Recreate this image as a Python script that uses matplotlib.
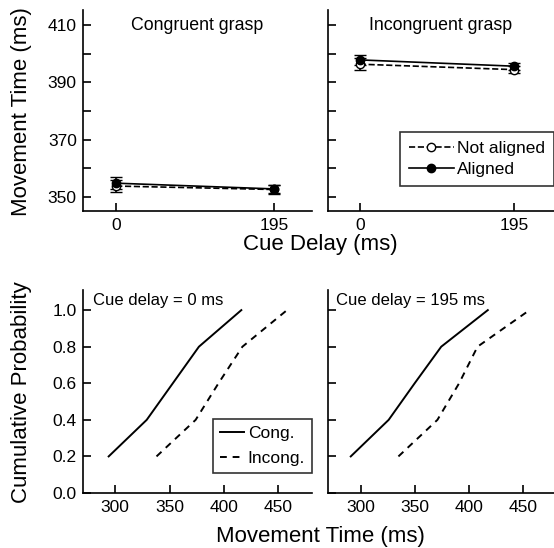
import matplotlib
matplotlib.use("Agg")
import matplotlib.pyplot as plt
from matplotlib.ticker import MultipleLocator

plt.rcParams['font.family'] = ['Liberation Sans', 'DejaVu Sans']

# data: mean movement time (ms) by cue delay
cue_delays = [0, 195]
cong_aligned = [354.8, 352.8]
cong_aligned_err = [2.0, 1.5]
cong_notaligned = [353.8, 352.6]
cong_notaligned_err = [2.0, 1.5]
incong_aligned = [397.8, 395.6]
incong_aligned_err = [1.7, 1.2]
incong_notaligned = [396.3, 394.4]
incong_notaligned_err = [2.0, 1.3]

# cumulative distributions
cum_prob = [0.2, 0.4, 0.6, 0.8, 1.0]
d0_cong = [294, 329, 353, 377, 416]
d0_incong = [338, 374, 395, 417, 458]
d195_cong = [291, 326, 350, 374.5, 417.5]
d195_incong = [335, 371, 391, 408, 456]

W, H = 554, 548
fig = plt.figure(figsize=(W / 100, H / 100), dpi=100)


def px_axes(x0, y0, x1, y1):
    # pixel box (top-left origin) -> figure fraction
    return fig.add_axes([x0 / W, 1 - y1 / H, (x1 - x0) / W, (y1 - y0) / H])


def style(ax):
    ax.spines['top'].set_visible(False)
    ax.spines['right'].set_visible(False)
    ax.spines['left'].set_linewidth(1.2)
    ax.spines['bottom'].set_linewidth(1.2)
    ax.tick_params(direction='in', length=6, width=1.2, labelsize=12.5)
    ax.tick_params(axis='y', pad=4.5)
    ax.tick_params(axis='x', pad=5)


ax1 = px_axes(83, 10, 312, 211)
ax2 = px_axes(328, 10, 554, 211)
ax3 = px_axes(83, 290, 312, 493)
ax4 = px_axes(328, 290, 554, 493)

# top panels
for ax, al, al_e, na, na_e, title in [
        (ax1, cong_aligned, cong_aligned_err, cong_notaligned, cong_notaligned_err, "Congruent grasp"),
        (ax2, incong_aligned, incong_aligned_err, incong_notaligned, incong_notaligned_err, "Incongruent grasp")]:
    style(ax)
    ax.errorbar(cue_delays, na, yerr=na_e, color='k', ls='--', lw=1.2, marker='o',
                mfc='white', mec='k', ms=6, capsize=4, elinewidth=1.2, label='Not aligned')
    ax.errorbar(cue_delays, al, yerr=al_e, color='k', ls='-', lw=1.2, marker='o',
                mfc='k', mec='k', ms=6, capsize=4, elinewidth=1.2, label='Aligned')
    ax.set_ylim(345.1, 415.2)
    ax.yaxis.set_major_locator(MultipleLocator(10))
    ax.set_xticks(cue_delays)
    ax.text(0.5, 0.925, title, transform=ax.transAxes, ha='center', va='center', fontsize=12.8)

ax1.set_xlim(-41, 242)
ax2.set_xlim(-40, 245)
ax1.set_yticks([350, 360, 370, 380, 390, 400, 410])
ax1.set_yticklabels(['350', '', '370', '', '390', '', '410'])
ax2.set_yticklabels([])

h, l = ax2.get_legend_handles_labels()
leg = ax2.legend([x[0] for x in h], l, loc='lower right', bbox_to_anchor=(1.0, 0.125),
                 fontsize=12.5, frameon=True, fancybox=False, handlelength=2.6,
                 handletextpad=0.2, borderpad=0.5, labelspacing=0.35, borderaxespad=0)
leg.get_frame().set_edgecolor('k')
leg.get_frame().set_linewidth(1.2)

# bottom panels
for ax, cong, incong, title, tx in [(ax3, d0_cong, d0_incong, "Cue delay = 0 ms", 0.042),
                                    (ax4, d195_cong, d195_incong, "Cue delay = 195 ms", 0.034)]:
    style(ax)
    ax.plot(cong, cum_prob, color='k', ls='-', lw=1.4, label='Cong.')
    ax.plot(incong, cum_prob, color='k', ls=(0, (3.5, 3)), lw=1.4, label='Incong.')
    ax.set_ylim(0, 1.11)
    ax.set_xticks([300, 350, 400, 450])
    ax.set_yticks([0, 0.2, 0.4, 0.6, 0.8, 1.0])
    ax.text(tx, 0.95, title, transform=ax.transAxes, ha='left', va='center', fontsize=12)

ax3.set_xlim(270.4, 481)
ax4.set_xlim(270, 478.6)
ax3.set_yticklabels(['0.0', '0.2', '0.4', '0.6', '0.8', '1.0'])
ax4.set_yticklabels([])

leg2 = ax3.legend(loc='lower right', bbox_to_anchor=(1.0, 0.10), fontsize=12.5,
                  frameon=True, fancybox=False, handlelength=1.4, handletextpad=0.2,
                  borderpad=0.4, labelspacing=0.55, borderaxespad=0)
leg2.get_frame().set_edgecolor('k')
leg2.get_frame().set_linewidth(1.2)

# axis labels
fig.text(22 / W, 1 - 112 / H, "Movement Time (ms)", rotation=90, ha='center', va='center', fontsize=16)
fig.text(22 / W, 1 - 392 / H, "Cumulative Probability", rotation=90, ha='center', va='center', fontsize=16)
fig.text(320 / W, 1 - 250 / H, "Cue Delay (ms)", ha='center', va='baseline', fontsize=16)
fig.text(320 / W, 1 - 542 / H, "Movement Time (ms)", ha='center', va='baseline', fontsize=16)

fig.savefig("out.png", dpi=100)
